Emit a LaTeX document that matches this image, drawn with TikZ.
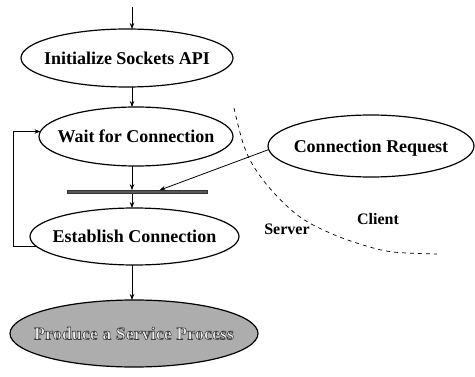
\documentclass[tikz,border=0pt]{standalone}
\usepackage{fontspec}
\setmainfont{Liberation Serif}
\usetikzlibrary{arrows.meta,shapes.geometric,calc}

% outlined light lettering (fill + stroke text render mode)
\newcommand{\outlinedtext}[1]{{\color{black!8}\special{pdf:literal direct 2 Tr 0.6 w 0.25 G}#1\special{pdf:literal direct 0 Tr}}}
% zero-size label box, so the ellipse takes only its minimum size
\newcommand{\flatlabel}[1]{\makebox[0pt]{\raisebox{-6pt}[0pt][0pt]{#1}}}

\begin{document}
\begin{tikzpicture}[x=1pt,y=1pt,
  proc/.style={ellipse, draw, line width=1.2pt, inner sep=0pt, outer sep=0pt,
               font=\fontsize{18}{20}\selectfont\bfseries},
  flow/.style={-{Stealth[length=6pt,width=4.5pt]}, line width=0.8pt},
  side/.style={font=\fontsize{16}{18}\selectfont\bfseries},
  divider/.style={dash pattern=on 4pt off 4pt, line width=0.7pt}]
\useasboundingbox (0,0) rectangle (475,376);

% server-side steps
\node[proc, minimum width=212pt, minimum height=58pt] (init) at (127,318) {\flatlabel{Initialize Sockets API}};
\node[proc, minimum width=194pt, minimum height=59pt] (wait) at (136,239.5) {\flatlabel{Wait for Connection}};
\node[draw=black!80, fill=black!65, line width=0.6pt, minimum width=140pt, minimum height=3pt, inner sep=0pt] (bar) at (137,184) {};
\node[proc, minimum width=209pt, minimum height=57pt] (est) at (134.5,139.5) {\flatlabel{Establish Connection}};
\node[proc, fill=black!32, minimum width=248pt, minimum height=67pt] (prod) at (134,42.5) {\flatlabel{\outlinedtext{Produce a Service Process}}};

% client side
\node[proc, minimum width=206pt, minimum height=62pt] (req) at (371,230) {\flatlabel{Connection Request}};

% helper points
\coordinate (start) at (132,369);
\coordinate (loopL) at (13,184);
\coordinate (barhit) at ($(bar.north west)!0.66!(bar.north east)$);

% main flow
\draw[flow] (start) -- (start |- init.north);
\draw[flow] (init.south -| start) -- (wait.north -| start);
\draw[flow] (wait.south -| start) -- (bar.north -| start);
\draw[flow] (bar.south -| start) -- (est.north -| start);
\draw[flow] (est.south -| start) -- (prod.north -| start);

% loop back to waiting
\draw[flow] (est.186) -- (est.186 -| loopL) |- (wait.177);

% request from the client
\draw[flow] (req.182) -- (barhit);

% server / client boundary
\draw[divider] plot[smooth, tension=0.6] coordinates {(234,268) (243,233) (254,209) (274,183) (300,159) (330,143) (363,131) (393,124) (437,122)};
\node[side] (server) at (287,147) {Server};
\node[side] (client) at (378,157) {Client};
\end{tikzpicture}
\end{document}
